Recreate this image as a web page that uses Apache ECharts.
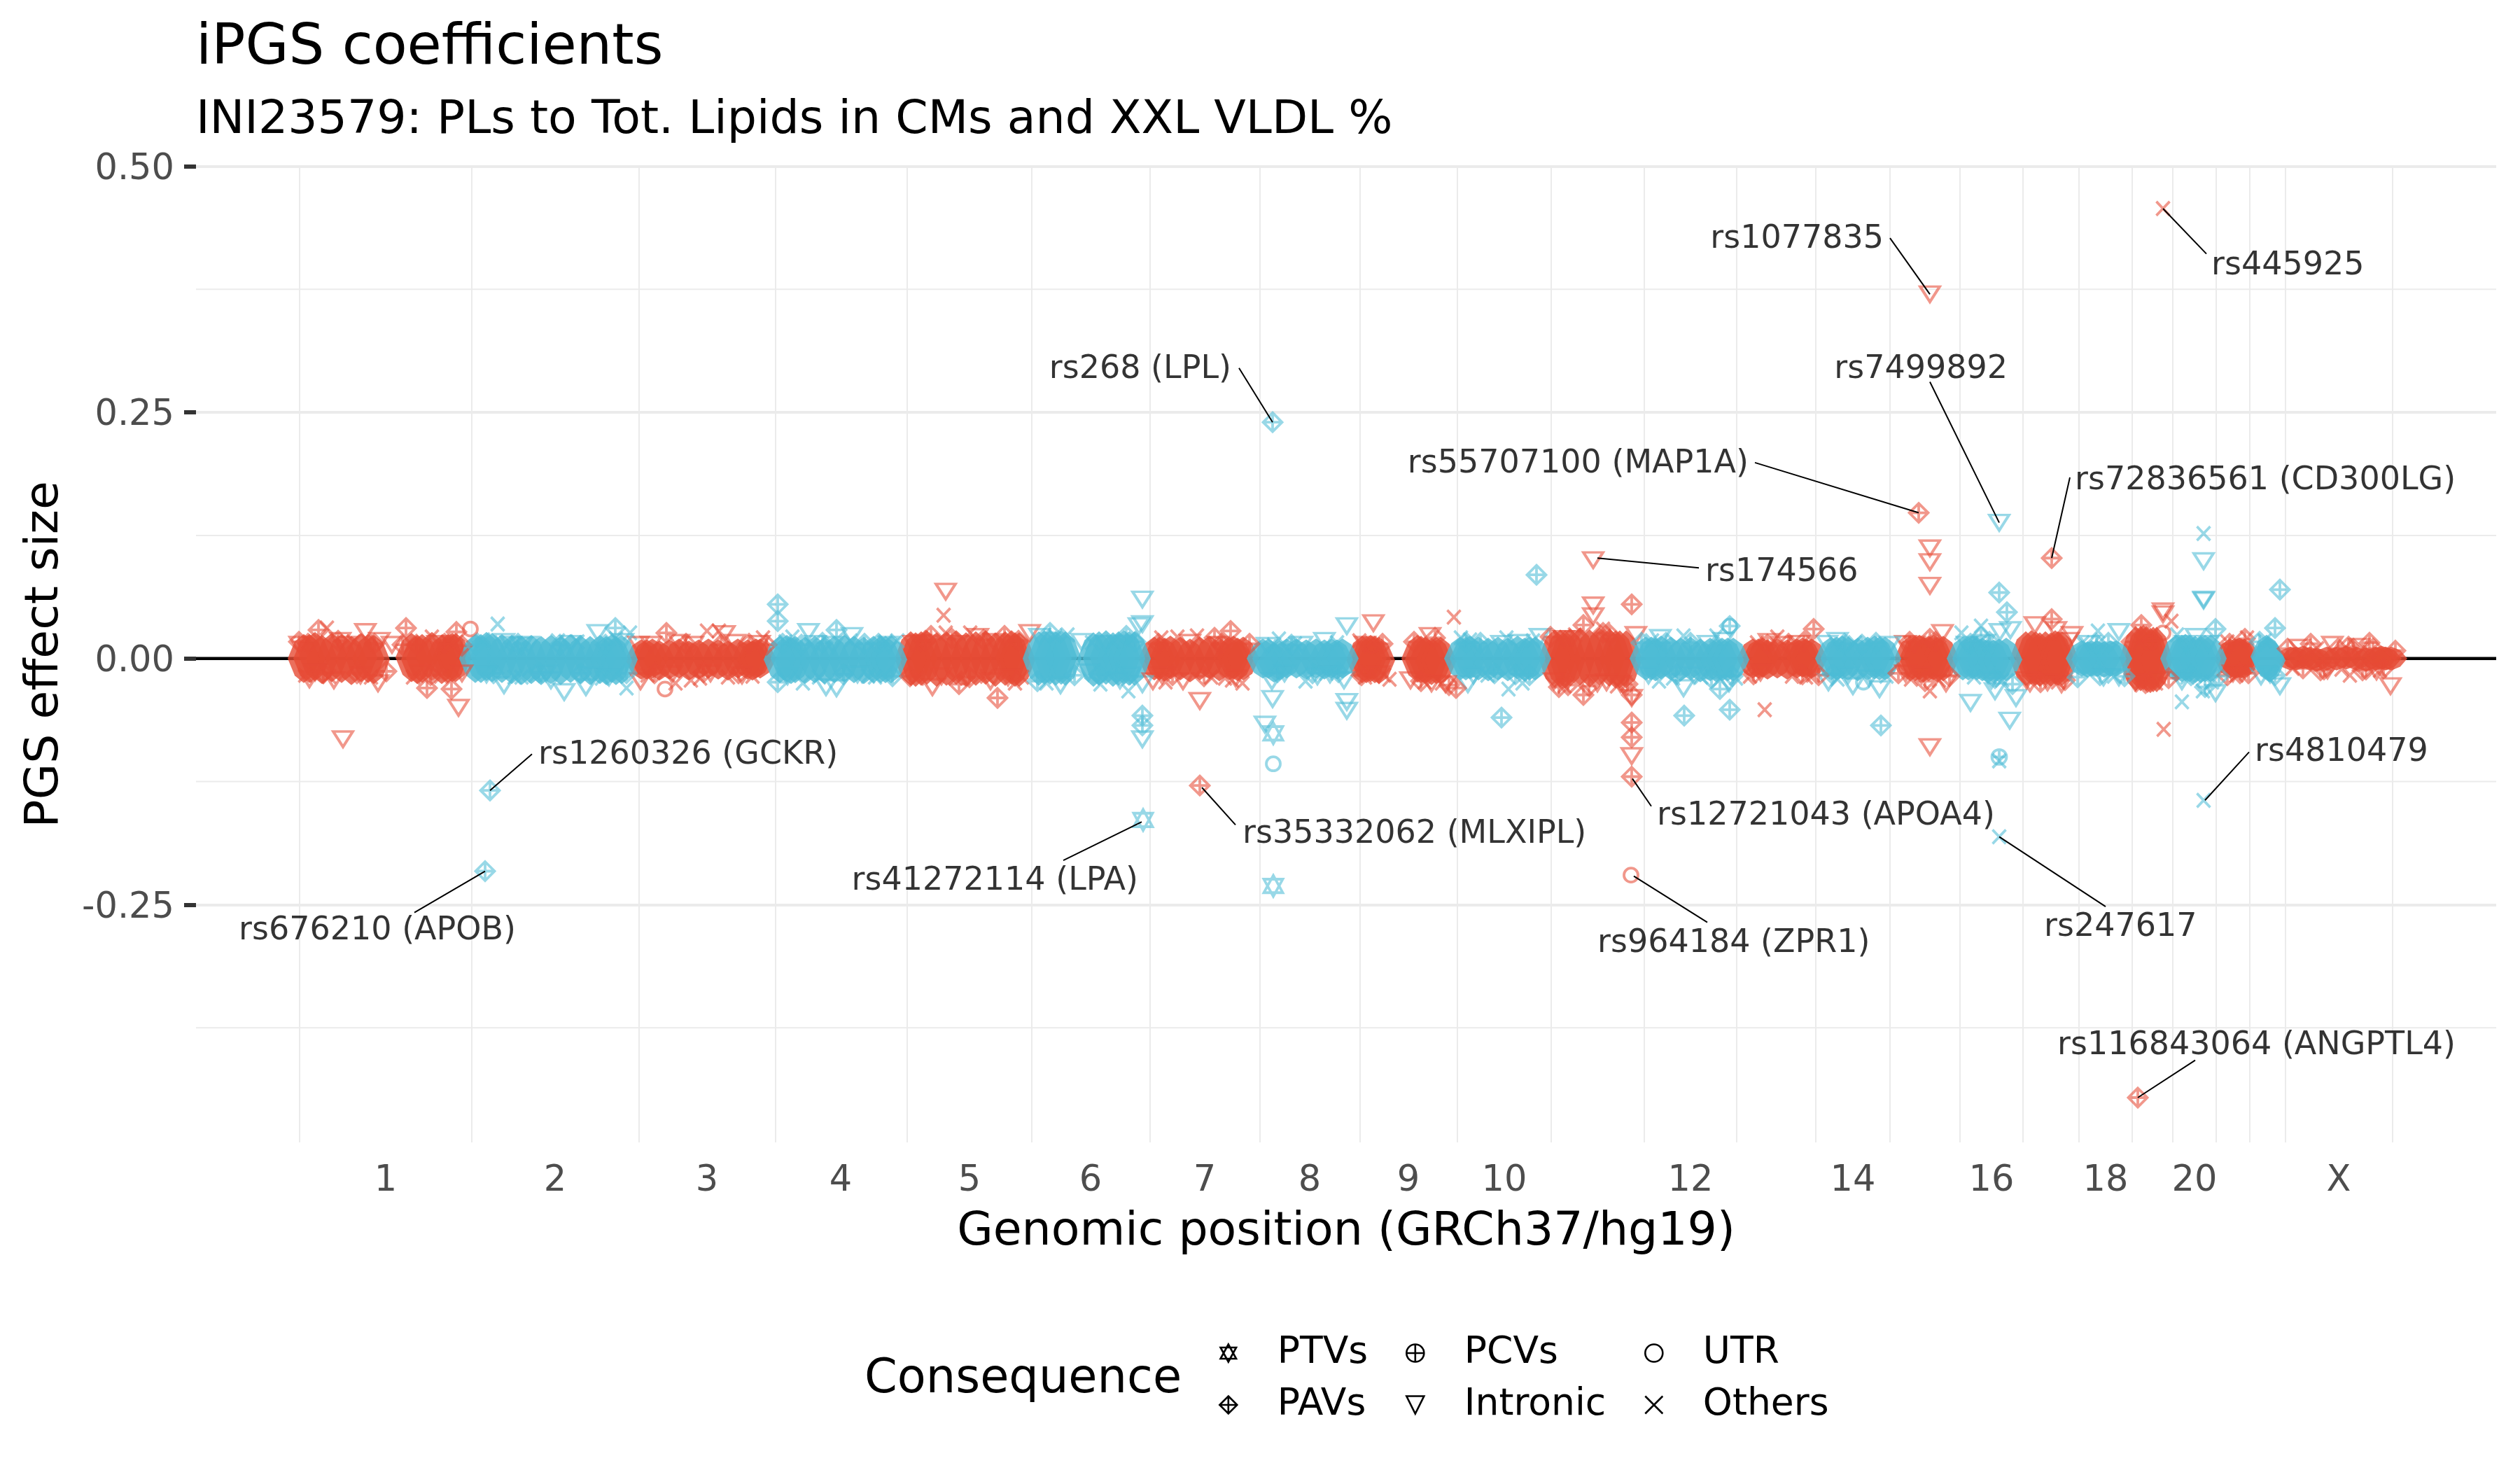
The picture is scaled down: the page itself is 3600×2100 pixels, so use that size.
<!DOCTYPE html>
<html><head><meta charset="utf-8">
<style>html,body{margin:0;padding:0;background:#fff}#c{width:3600px;height:2100px}</style>
<script src="https://cdn.jsdelivr.net/npm/echarts@6/dist/echarts.min.js"></script>
</head><body><div id="c"></div>
<script>
// x = cumulative genomic position on the plot scale; y = effect size x 1000
const chrBoundaries=[428,674,913,1108,1296,1474,1643,1800,1943,2082,2216,2349,2481,2594,2700,2800,2890,2970,3046,3104,3166,3214,3265,3418];
const chrLabelPositions=[551,793,1010,1201,1385,1558,1721,1871,2012,2149,2415,2647,2845,3008,3135,3341];
const chrLabels=['1','2','3','4','5','6','7','8','9','10','12','14','16','18','20','X'];
const bandEnds=[675,905,1103,1290,1475,1637,1795,1935,2083,2210,2340,2490,2604,2710,2795,2885,2965,3040,3105,3172,3220,3258,3440];
const yTicks=[-0.25,0,0.25,0.5];
const yMinor=[-0.375,-0.125,0.125,0.375];

const ptvs=[[1633,-164],[1819,-231],[1819,-76]];
const pcvs=[[2856,-100]];
const utr=[[672,30],[950,-31],[2330,-220],[1819,-107],[2471,33],[2662,-24],[1960,13],[3090,26],[3070,16]];
const others=[[3090,457],[2856,-181],[3148,-144],[3148,127],[3091,-72],[3117,-44],[3102,38],
[467,31],[617,22],[711,35],[797,18],[900,26],[1010,28],[1027,28],[745,-19],[895,-30],[965,-25],[987,-22],[1147,-25],[1090,21],[1132,22],
[1348,44],[1351,26],[1386,26],[1282,18],[1507,23],[1659,21],[1682,22],[1710,23],[1572,-26],[1612,-33],[1942,18],[1865,-23],[1827,20],[1450,-25],[1665,-24],[1775,-25],[1250,-19],
[2077,42],[2155,-31],[2175,-25],[2370,-23],[2521,-52],[2539,22],[1977,-17],[2500,-18],[2290,30],[2152,21],[2087,21],[2405,23],[2452,23],[2580,-19],
[2830,33],[2997,28],[3110,24],[3210,21],[3357,-17],[3147,-33],[2757,-33],[2802,26],[3182,17],[2856,-104],
[436,-17],[470,-18],[505,17],[530,-19],[590,-19],[630,-18],[640,17],[690,19],[735,-19],[765,-17],[825,17],[860,-20],[880,20],
[925,-17],[1000,-20],[1040,-19],[1075,-18],[1122,17],[1170,-19],[1215,18],[1240,-18],[1265,17],[1310,-20],[1365,-20],[1410,-18],[1460,-19],[1495,-25],[1525,24],[1560,16],[1590,17],
[1730,-19],[1750,-20],[1760,-22],[1820,14],[1850,15],[1895,-15],[1910,16],[1950,-19],[1985,-21],[2035,-24],[2060,-25],[2100,19],[2125,-17],[2190,18],[2235,-28],[2250,24],[2310,-28],[2360,18],[2390,-20],[2430,-19],[2480,-20],
[2510,16],[2560,-18],[2590,-17],[2625,-21],[2650,16],[2695,-18],[2730,-21],[2770,-22],[2820,-19],[2860,-22],[2905,-20],[2940,-24],[2975,16],[3020,-18],[3060,-27],[3080,-25],[3125,-19],[3160,-24],[3195,-17],[3235,18],[3275,-10],[3310,10],[3345,-11],[3400,-12]];
const intronic=[[2757,370],[2276,100],[2856,138],[2757,112],[2757,98],[2757,74],[2757,-90],[3148,99],[3148,60],[3148,59],[2815,-45],[2871,-63],[3415,-28],[2850,-33],[2880,-40],[2722,15],[2775,26],[2907,34],[2937,29],[2960,24],[2857,27],[2872,29],[3090,48],[3090,45],[3027,27],[3137,22],[3165,-35],[3257,-28],[3332,14],[2945,-26],[2900,-25],[3027,-19],[3230,-18],[3117,-23],
[490,-82],[655,-50],[522,27],[486,18],[542,18],[720,-27],[806,-34],[837,-29],[854,26],[1155,27],[1035,25],[970,16],[912,14],[540,-25],[442,-21],[477,-22],[720,17],[745,13],[1050,16],[787,-22],[915,-23],
[1351,68],[1632,60],[1632,35],[1627,33],[1195,-30],[1180,-29],[1217,23],[1305,15],[1332,-29],[1397,22],[1471,26],[1415,-23],[1545,17],[1632,-26],[1600,-22],[1632,-82],[1714,-43],[1690,-23],[1647,-23],[1818,-41],[1807,-67],[1817,-23],[1892,18],[1924,33],[1924,-44],[1924,-53],[1920,-22],[1882,-18],[1962,36],[1810,13],
[2276,54],[2276,43],[2043,23],[2337,24],[2372,21],[2200,22],[2234,20],[2331,-99],[2331,-40],[2282,-25],[2097,-26],[2470,-25],[2405,-30],[2722,-15],[2647,-28],[2685,-31],[2612,-24],[2625,18],[2527,17],
[428,14],[450,-14],[495,14],[515,-17],[560,14],[600,-15],[625,15],[660,-15],[695,-16],[730,14],[755,14],[780,-15],[815,15],[845,-17],[870,-19],[890,17],[930,14],[960,-16],[990,14],[1015,-15],[1060,-17],[1085,15],[1125,-18],[1165,15],[1190,14],[1225,-16],[1270,14],
[1315,16],[1345,-18],[1375,15],[1420,17],[1440,-19],[1485,22],[1515,-27],[1555,-14],[1580,15],[1615,-17],[1660,-17],[1700,16],[1740,14],[1765,-20],[1835,-15],[1860,14],[1900,-16],[1950,14],[1970,-16],[2015,-22],[2045,-25],[2065,-26],[2105,-17],[2145,15],[2170,16],[2220,-23],[2245,20],[2295,-24],[2315,-26],[2355,-17],[2420,-17],[2440,15],[2462,18],
[2515,-14],[2545,14],[2570,15],[2610,15],[2640,-17],[2670,-20],[2700,14],[2735,14],[2745,-17],[2780,-25],[2810,14],[2835,16],[2845,-22],[2895,-22],[2925,-24],[2955,18],[2985,15],[3005,-19],[3050,-24],[3085,-22],[3122,15],[3155,15],[3190,-15],[3243,-16],[3285,11],[3325,-12],[3370,12],[3395,-13]];
const pavs=[[1818,240],[2741,148],[2931,102],[700,-134],[693,-216],[1714,-129],[2331,-120],[3054,-446],
[2856,67],[2867,47],[2931,40],[3059,34],[3165,30],[3257,70],[3250,31],[3301,15],[3385,16],[2830,22],[3000,-17],[3150,-29],[3207,20],[3182,-17],[2757,20],[3362,10],[3380,-11],[3320,-11],
[580,31],[652,27],[455,29],[427,17],[610,-30],[645,-31],[879,31],[952,26],[1111,55],[1111,38],[1111,-24],
[1195,29],[1330,23],[1435,23],[1370,-26],[1425,-40],[1609,23],[1758,28],[1735,21],[1632,-58],[1632,-68],
[2195,85],[2331,55],[2262,34],[2471,33],[2591,30],[2577,17],[2145,-60],[2262,-37],[2227,-29],[2406,-58],[2471,-52],[2457,-31],[2687,-68],[2331,-65],[2331,-80],[2080,-30],[2290,26],[2331,-37],
[440,15],[462,-15],[483,18],[510,-15],[535,15],[552,-13],[575,14],[595,14],[615,-17],[635,15],[660,13],[680,14],[705,-15],[740,15],[770,-14],[800,14],[830,-15],[865,14],[895,-15],
[935,-15],[980,15],[1005,-14],[1030,14],[1055,-15],[1070,15],[1095,14],[1118,15],[1145,14],[1175,16],[1205,-16],[1235,15],[1255,15],[1275,-18],
[1300,-18],[1322,18],[1360,20],[1385,-19],[1405,19],[1455,18],[1482,-23],[1500,26],[1535,-17],[1570,-16],[1595,-15],[1622,17],[1655,15],[1675,-17],[1720,-18],[1745,15],[1785,15],[1825,-14],[1845,14],[1875,-15],[1912,-14],
[1945,-17],[1975,15],[2020,17],[2030,-23],[2050,21],[2070,-27],[2095,16],[2115,16],[2135,-15],[2165,-16],[2185,-17],[2215,22],[2240,-27],[2270,-28],[2300,24],[2325,-26],[2345,16],[2380,16],[2395,-16],[2415,16],[2445,-20],[2475,-18],
[2505,-16],[2525,14],[2555,15],[2575,-16],[2598,-17],[2618,-16],[2635,15],[2660,14],[2680,16],[2712,-15],[2728,17],[2750,-23],[2765,17],[2785,-18],[2815,15],[2842,17],[2850,-20],[2875,-26],[2915,-24],[2950,-22],[2968,-19],[2995,15],[3012,16],[3035,-18],[3045,17],[3065,-25],[3075,18],[3098,-20],[3130,-17],[3170,-18],[3185,15],[3200,-15],[3212,-15],[3228,17],[3250,-17],[3268,10],[3290,-10],[3315,-12],[3340,10],[3355,12],[3375,-12],[3390,10],[3405,-10],[3422,8]];

const coreRed=[[442,0],[450,2],[460,-1],[474,1],[488,0],[502,-2],[516,1],[526,0],[534,-1],[588,1],[596,-1],[603,0],[617,2],[631,-1],[640,0],[646,1],
[924,-1],[932,0],[942,-2],[956,-1],[970,0],[984,-2],[998,-1],[1012,0],[1026,-1],[1040,-2],[1054,0],[1068,-1],[1075,-2],[1080,0],
[1308,-1],[1316,0],[1324,1],[1338,-1],[1352,0],[1366,1],[1380,-1],[1394,0],[1408,1],[1422,-1],[1436,0],[1445,1],[1450,-1],
[1656,0],[1664,-1],[1672,1],[1686,0],[1700,-2],[1714,0],[1728,1],[1742,-1],[1756,0],[1762,1],[1768,-1],
[1952,-1],[1958,0],[1964,-1],[1970,-2],[2025,0],[2030,-1],[2036,-2],[2045,-3],[2052,-2],
[2229,0],[2236,-1],[2243,1],[2257,2],[2271,0],[2285,2],[2299,1],[2308,-1],[2314,-1],
[2512,0],[2518,1],[2525,-1],[2539,0],[2553,-1],[2567,0],[2575,1],[2580,0],
[2736,0],[2742,1],[2748,-1],[2755,0],[2762,1],[2768,-1],
[2902,1],[2908,0],[2914,-1],[2922,0],[2930,-1],[2936,1],[2940,0],
[3058,0],[3062,1],[3066,0],[3072,-2],[3076,-1],
[3192,0],[3196,0],[3199,1],[3202,0],
[3280,0],[3290,1],[3300,0],[3310,-1],[3324,0],[3338,0],[3352,1],[3366,0],[3380,-1],[3394,0],[3402,1],[3408,0],
[434,0],[651,1],[916,-1],[1086,0],[1301,0],[1456,-1],[1649,0],[1776,0],[1946,-1],[2058,-2],[2221,0],[2323,-1],[2504,0],[2588,0],[2729,0],[2776,0],[2894,0],[2946,0],[3051,0],[3081,-1],[3186,0],[3206,0],[3272,0],[3416,0]];
const coreBlue=[[687,0],[695,2],[703,1],[717,0],[731,-1],[745,-2],[759,-1],[773,-2],[787,-1],[801,-2],[815,0],[829,-1],[843,-2],[857,-1],[866,-2],[874,0],[880,-2],
[1124,0],[1130,-2],[1136,-1],[1150,-2],[1164,-1],[1178,-2],[1192,-1],[1206,0],[1220,-1],[1234,-2],[1248,-1],[1258,-1],[1265,-1],
[1492,1],[1500,1],[1508,0],[1516,1],[1522,0],[1562,-1],[1570,0],[1580,1],[1590,-1],[1598,0],[1606,1],[1613,0],
[1812,0],[1820,-4],[1828,-2],[1838,0],[1852,0],[1866,-1],[1880,0],[1892,-1],[1902,0],[1910,-1],
[2094,0],[2100,1],[2112,0],[2126,-1],[2140,0],[2154,-1],[2168,1],[2178,-1],[2185,0],
[2359,0],[2365,-1],[2373,1],[2387,0],[2401,-1],[2415,0],[2429,-2],[2443,-1],[2452,-2],[2460,-1],[2468,-1],
[2624,0],[2632,1],[2640,0],[2654,-1],[2668,0],[2678,1],[2685,0],
[2812,0],[2818,1],[2824,0],[2832,-1],[2840,-3],[2848,-3],[2856,-2],
[2982,-1],[2988,0],[2996,0],[3006,-1],[3015,0],
[3117,0],[3122,1],[3128,0],[3136,-1],[3144,-1],[3150,0],
[3238,2],[3240,0],[3242,-2],
[679,0],[888,-1],[1114,-1],[1273,-1],[1484,0],[1621,0],[1804,0],[1918,0],[2086,0],[2193,0],[2351,0],[2476,-1],[2616,0],[2693,0],[2804,0],[2866,-1],[2974,0],[3023,0],[3109,0],[3158,0]];

const labelTexts=['rs445925','rs1077835','rs268 (LPL)','rs55707100 (MAP1A)','rs7499892','rs72836561 (CD300LG)','rs174566','rs1260326 (GCKR)','rs676210 (APOB)','rs41272114 (LPA)','rs35332062 (MLXIPL)','rs12721043 (APOA4)','rs964184 (ZPR1)','rs247617','rs4810479','rs116843064 (ANGPTL4)'];
const labelXs=[3159,2691,1759,2498,2868,2964,2436,769,737,1626,1775,2367,2282,2920,3221,2939];
const labelYs=[402,429,297,201,297,184,91,-95,-273,-223,-175,-157,-286,-270,-92,-390];
const labelAlign=['left','right','right','right','right','left','left','left','right','right','left','left','left','left','left','left'];
const leaderFrom=[[3090,457],[2700,427],[1770,295],[2507,199],[2757,281],[2957,184],[2427,92],[760,-97],[592,-258],[1519,-205],[1765,-169],[2359,-150],[2439,-268],[3008,-252],[3213,-95],[3136,-408]];
const leaderTo=[[3152,411],[2757,370],[1818,240],[2741,148],[2856,138],[2931,102],[2282,102],[700,-134],[693,-216],[1631,-166],[1717,-131],[2332,-122],[2334,-221],[2856,-181],[3150,-144],[3054,-446]];

const RED='#E64B35',BLUE='#4DBBD5',A=0.72;
const rgba=(h)=>'rgba('+parseInt(h.slice(1,3),16)+','+parseInt(h.slice(3,5),16)+','+parseInt(h.slice(5,7),16)+','+A+')';
const chrIndex=x=>{for(let i=0;i<bandEnds.length;i++)if(x<=bandEnds[i])return i;return bandEnds.length-1;};
const coreHalf=[27,27,22,26,30,30,24,22,26,24,32,24,22,24,25,24,30,20,36,26,22,24,13];
const shapes={
 PTVs:{p:'path://M50 0L95 82L5 82ZM50 100L95 18L5 18Z',s:[27,30]},
 PAVs:{p:'path://M50 0L100 50L50 100L0 50ZM50 0L50 100M0 50L100 50',s:[27,27]},
 PCVs:{p:'path://M0 50A50 50 0 1 1 100 50A50 50 0 1 1 0 50ZM50 0L50 100M0 50L100 50',s:[21,21]},
 Intronic:{p:'path://M0 0L100 0L50 100Z',s:[28,22]},
 UTR:{p:'path://M0 50A50 50 0 1 1 100 50A50 50 0 1 1 0 50Z',s:[20,20]},
 Others:{p:'path://M0 0L100 100M100 0L0 100',s:[19,20]}
};
const pts=a=>a.map(d=>({value:[d[0],d[1]/1000],itemStyle:{borderColor:rgba(chrIndex(d[0])%2?BLUE:RED)}}));
const mk=(name,arr)=>({name,type:'scatter',z:4,symbol:shapes[name].p,symbolSize:shapes[name].s,symbolKeepAspect:false,silent:true,
  itemStyle:{color:'transparent',borderWidth:3.8},data:pts(arr)});
const coreShape='path://M50 0L78 15L100 50L78 85L50 100L22 85L0 50L22 15Z';
const core=(arr,c)=>({type:'scatter',z:3,symbol:coreShape,silent:true,symbolKeepAspect:false,
  symbolSize:v=>[46,2.6*coreHalf[chrIndex(v[0])]],itemStyle:{color:c},data:arr.map(d=>[d[0],d[1]/1000])});
const leg=(left,names)=>({orient:'vertical',left,top:1901,itemWidth:130,itemHeight:25,itemGap:20,selectedMode:false,symbolKeepAspect:true,
  textStyle:{fontSize:53.5,color:'#000',fontFamily:'DejaVu Sans'},
  data:names.map(n=>({name:n,icon:shapes[n].p,itemStyle:{color:'transparent',borderColor:'#000',borderWidth:2.6,opacity:1}}))});
const leaderData=[];leaderFrom.forEach((a,i)=>{leaderData.push([a[0],a[1]/1000],[leaderTo[i][0],leaderTo[i][1]/1000],[null,null]);});
const helper=(v)=>({type:'line',z:1,silent:true,symbol:'none',data:[[280,v],[3566,v]]});

const chart=echarts.init(document.getElementById('c'),null,{renderer:'canvas'});
chart.setOption({animation:false,backgroundColor:'#fff',textStyle:{fontFamily:'DejaVu Sans'},
 title:[
  {text:'iPGS coefficients',left:275,top:25,textStyle:{fontSize:80,fontWeight:'normal',color:'#000',fontFamily:'DejaVu Sans'}},
  {text:'INI23579: PLs to Tot. Lipids in CMs and XXL VLDL %',left:275,top:134,textStyle:{fontSize:66.5,fontWeight:'normal',color:'#000',fontFamily:'DejaVu Sans'}},
  {text:'Consequence',left:1230,top:1933,textStyle:{fontSize:67,fontWeight:'normal',color:'#000',fontFamily:'DejaVu Sans'}}
 ],
 legend:[leg(1736,['PTVs','PAVs']),leg(2003,['PCVs','Intronic']),leg(2344,['UTR','Others'])],
 grid:{left:280,top:237.5,width:3286,height:1394.5,containLabel:false,outerBoundsMode:'none'},
 xAxis:{type:'value',min:280,max:3566,
  axisLine:{show:false},
  axisTick:{show:false,customValues:chrBoundaries},
  splitLine:{show:true,lineStyle:{color:'#EBEBEB',width:2}},
  axisLabel:{customValues:chrLabelPositions,margin:30,fontSize:51,color:'#4D4D4D',fontFamily:'DejaVu Sans',formatter:v=>chrLabels[chrLabelPositions.indexOf(v)]},
  name:'Genomic position (GRCh37/hg19)',nameLocation:'middle',nameGap:95,nameTextStyle:{fontSize:66.5,color:'#000',fontFamily:'DejaVu Sans'}},
 yAxis:{type:'value',min:-0.4915,max:0.5,
  axisLine:{show:false},
  axisTick:{show:true,length:17,customValues:yTicks,lineStyle:{color:'#333',width:6}},
  splitLine:{show:true,lineStyle:{color:'#EBEBEB',width:4}},
  axisLabel:{customValues:yTicks,margin:31,formatter:v=>'{a|'+v.toFixed(2)+'}',
    rich:{a:{fontSize:51,color:'#4D4D4D',fontFamily:'DejaVu Sans',padding:[10,0,0,0]}}},
  name:'PGS effect size',nameLocation:'middle',nameGap:182,nameTextStyle:{fontSize:66.5,color:'#000',fontFamily:'DejaVu Sans'}},
 series:[
  ...yMinor.map(v=>Object.assign(helper(v),{lineStyle:{color:'#EBEBEB',width:2}})),
  Object.assign(helper(0),{z:2,lineStyle:{color:'#000',width:4.5}}),
  core(coreRed,RED),core(coreBlue,BLUE),
  mk('Others',others),mk('Intronic',intronic),mk('UTR',utr),mk('PCVs',pcvs),mk('PAVs',pavs),mk('PTVs',ptvs),
  {type:'line',z:5,silent:true,symbol:'none',connectNulls:false,lineStyle:{color:'#000',width:2},data:leaderData},
  {type:'scatter',z:6,silent:true,symbolSize:0,
   data:labelTexts.map((t,i)=>({value:[labelXs[i],labelYs[i]/1000],label:{show:true,position:[0,5],align:labelAlign[i],verticalAlign:'middle',formatter:t,fontSize:46,color:'#000',fontFamily:'DejaVu Sans'}}))}
 ]
});
</script></body></html>
